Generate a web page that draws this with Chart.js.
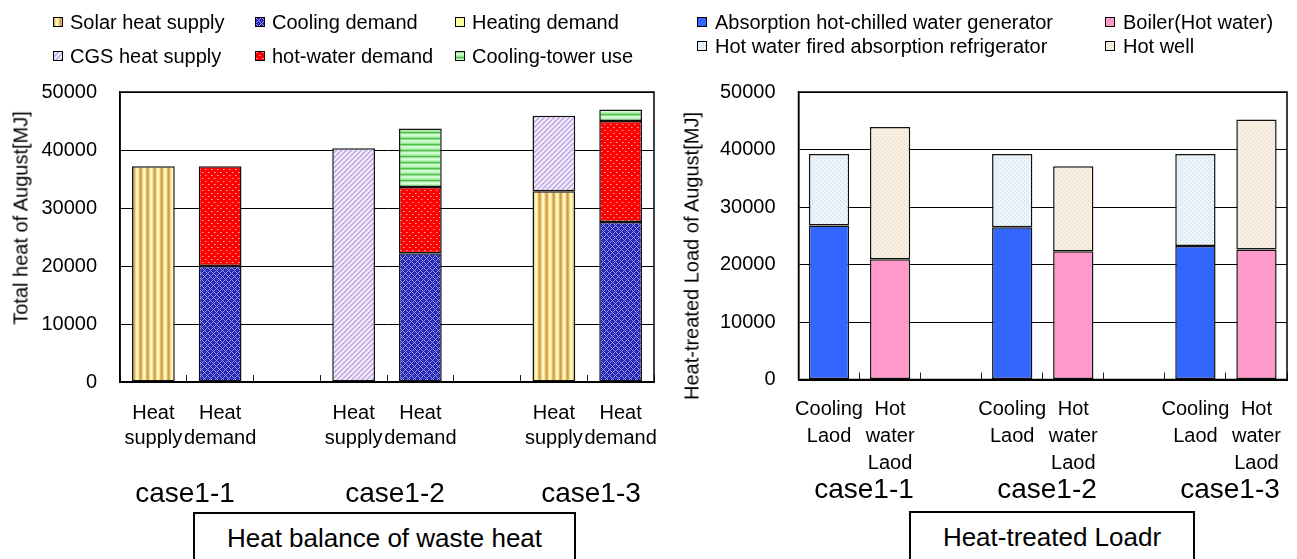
<!DOCTYPE html>
<html>
<head>
<meta charset="utf-8">
<script src="https://cdn.jsdelivr.net/npm/chart.js@4.4.1/dist/chart.umd.min.js"></script>
<style>
  html, body { margin: 0; padding: 0; background: #fff; }
  body { width: 1297px; height: 559px; position: relative; overflow: hidden;
         font-family: "Liberation Sans", Arial, sans-serif; color: #000; }
  canvas.chart { position: absolute; top: 0; }
  .leg { position: absolute; height: 20px; white-space: nowrap; font-size: 20px; line-height: 20px; }
  .leg canvas { position: absolute; left: 0; top: 5px; }
  .leg span { position: absolute; top: 0; }
  .ytitle { position: absolute; font-size: 20px; white-space: nowrap;
            transform: translate(-50%, -50%) rotate(-90deg); }
  .case { position: absolute; font-size: 28px; white-space: nowrap; transform: translate(-50%, -50%); }
  .tbox { position: absolute; border: 2px solid #000; background: #fff; box-sizing: border-box;
          font-size: 26px; line-height: 26px; text-align: center; padding-top: 11px; white-space: nowrap; }
</style>
</head>
<body>
<canvas id="heatBalance" class="chart" width="660" height="559" style="left:0"></canvas>
<canvas id="treatedLoad" class="chart" width="637" height="559" style="left:660px"></canvas>

<script>
// ---- Heat balance of waste heat (August) ----
const balanceCategories = [["Heat", "supply"], ["Heat", "demand"], "",
                           ["Heat", "supply"], ["Heat", "demand"], "",
                           ["Heat", "supply"], ["Heat", "demand"]];
const solarHeatSupply = [37200, null, null, null, null, null, 32900, null];
const cgsHeatSupply   = [null, null, null, 40300, null, null, 13000, null];
const coolingDemand   = [null, 20000, null, null, 22200, null, null, 27600];
const heatingDemand   = [null, 0, null, null, 0, null, null, 0];
const hotWaterDemand  = [null, 17200, null, null, 11400, null, null, 17400];
const coolingTowerUse = [null, null, null, null, 10100, null, null, 2000];

// ---- Heat-treated load (August) ----
const loadCategories = [["Cooling", "Laod"], ["Hot", "water", "Laod"], "",
                        ["Cooling", "Laod"], ["Hot", "water", "Laod"], "",
                        ["Cooling", "Laod"], ["Hot", "water", "Laod"]];
const absorptionGenerator   = [26800, null, null, 26500, null, null, 23200, null];
const hotWaterFiredAbsorber = [12400, null, null, 12700, null, null, 16000, null];
const boilerHotWater        = [null, 20900, null, null, 22300, null, null, 22600];
const hotWell               = [null, 23000, null, null, 14800, null, null, 22600];

const caseLabels = ["case1-1", "case1-2", "case1-3"];
const yTickMin = 0, yTickMax = 50000, yTickStep = 10000;

const FONT = '"Liberation Sans", Arial, sans-serif';
Chart.defaults.font.family = FONT;
Chart.defaults.color = '#000';

// ---- fill tiles ----
function tile(w, h, paint) {
  const c = document.createElement('canvas');
  c.width = w; c.height = h;
  paint(c.getContext('2d'), w, h);
  return c;
}
function dot(g, x, y, col) { g.fillStyle = col; g.fillRect(x, y, 1, 1); }

const tiles = {
  solar: tile(7, 7, g => {
    const cols = ['#CE9E50', '#DAB064', '#F2D98A', '#FFF6AC', '#FFFAC8', '#F6E296', '#E2BA6C'];
    cols.forEach((c, x) => { g.fillStyle = c; g.fillRect(x, 0, 1, 7); });
  }),
  cooling: tile(6, 6, g => {
    g.fillStyle = '#2323B2'; g.fillRect(0, 0, 6, 6);
    for (let x = 0; x < 6; x++) for (let y = 0; y < 6; y++) {
      if ((x + y) % 6 === 0 || (x - y + 6) % 6 === 0) dot(g, x, y, '#9C9CEE');
    }
    dot(g, 3, 0, '#5050CC'); dot(g, 0, 3, '#5050CC');
  }),
  heating: tile(2, 2, g => { g.fillStyle = '#FFFF99'; g.fillRect(0, 0, 2, 2); }),
  cgs: tile(5, 5, g => {
    const cols = ['#C4ADE5', '#C9B3E8', '#DED2F1', '#F7F3FC', '#F2ECFA'];
    for (let x = 0; x < 5; x++) for (let y = 0; y < 5; y++) dot(g, x, y, cols[(x + y) % 5]);
  }),
  hotWater: tile(6, 6, g => {
    g.fillStyle = '#FF0000'; g.fillRect(0, 0, 6, 6);
    dot(g, 1, 1, '#FFA8A8'); dot(g, 4, 4, '#FFA8A8');
    dot(g, 2, 1, '#FF5A5A'); dot(g, 5, 4, '#FF5A5A');
  }),
  tower: tile(6, 6, g => {
    const cols = ['#4DBE4D', '#8EDF8E', '#C8FBC8', '#D2FFD2', '#B6F2B6', '#98E598'];
    cols.forEach((c, y) => { g.fillStyle = c; g.fillRect(0, y, 6, 1); });
  }),
  absorption: tile(2, 2, g => { g.fillStyle = '#3366FF'; g.fillRect(0, 0, 2, 2); }),
  refrigerator: tile(4, 4, g => {
    g.fillStyle = '#EDF5FA'; g.fillRect(0, 0, 4, 4);
    dot(g, 0, 0, '#BCD6E8'); dot(g, 2, 2, '#BCD6E8');
  }),
  boiler: tile(2, 2, g => { g.fillStyle = '#FF99CC'; g.fillRect(0, 0, 2, 2); }),
  hotWell: tile(4, 4, g => {
    g.fillStyle = '#F9F0E4'; g.fillRect(0, 0, 4, 4);
    dot(g, 0, 0, '#E5D2BA'); dot(g, 2, 2, '#E5D2BA');
  })
};

function pat(ctx, key) { return ctx.createPattern(tiles[key], 'repeat'); }

// Plot-area frame drawn around the chart area
const frame = {
  id: 'frame',
  afterDatasetsDraw(chart) {
    const a = chart.chartArea, g = chart.ctx;
    g.save();
    g.strokeStyle = '#000'; g.lineWidth = 1.5;
    g.strokeRect(a.left, a.top, a.right - a.left, a.bottom - a.top);
    g.restore();
  }
};

function barSet(ctx, label, data, key, pct) {
  return {
    label, data,
    backgroundColor: pat(ctx, key),
    borderColor: '#111', borderWidth: key === 'heating' ? 0 : 1.5, borderSkipped: false,
    categoryPercentage: 1, barPercentage: pct, stack: 's'
  };
}

function makeOptions(plotLeft, plotBottom, canvasH, padRight, tickPad, lineH) {
  return {
    responsive: false, animation: false, devicePixelRatio: 1,
    layout: { padding: { left: 0, right: padRight, top: 92, bottom: 0 } },
    plugins: { legend: { display: false }, tooltip: { enabled: false } },
    scales: {
      x: {
        stacked: true,
        grid: { display: true, drawOnChartArea: false, drawTicks: true, tickLength: -7,
                color: '#222', lineWidth: 1, offset: true },
        border: { display: true, color: '#000', width: 2 },
        ticks: { color: '#000', font: { size: 20, lineHeight: lineH }, padding: tickPad,
                 maxRotation: 0, minRotation: 0, autoSkip: false },
        afterFit(s) {
          s.height = canvasH - plotBottom;
          s.paddingLeft = 0; s.paddingRight = 0;
        }
      },
      y: {
        stacked: true, min: yTickMin, max: yTickMax,
        ticks: { stepSize: yTickStep, color: '#000', font: { size: 20 }, padding: 23,
                 callback: v => String(v) },
        grid: { color: '#000', lineWidth: 1, drawTicks: false },
        border: { display: true, color: '#000', width: 1.5 },
        afterFit(s) {
          s.width = plotLeft;
          s.paddingTop = 0; s.paddingBottom = 0;
        }
      }
    }
  };
}

// ---- left chart ----
const c1 = document.getElementById('heatBalance');
const g1 = c1.getContext('2d');
const balanceSeries = [
  ['Solar heat supply', solarHeatSupply, 'solar'],
  ['CGS heat supply', cgsHeatSupply, 'cgs'],
  ['Cooling demand', coolingDemand, 'cooling'],
  ['Heating demand', heatingDemand, 'heating'],
  ['hot-water demand', hotWaterDemand, 'hotWater'],
  ['Cooling-tower use', coolingTowerUse, 'tower']
];
const chart1 = new Chart(c1, {
  type: 'bar',
  data: { labels: balanceCategories,
          datasets: balanceSeries.map(s => barSet(g1, s[0], s[1], s[2], 0.64)) },
  options: makeOptions(120, 382, 559, 6, 26, 1.25),
  plugins: [frame]
});

// ---- right chart ----
const c2 = document.getElementById('treatedLoad');
const g2 = c2.getContext('2d');
const loadSeries = [
  ['Absorption hot-chilled water generator', absorptionGenerator, 'absorption'],
  ['Hot water fired absorption refrigerator', hotWaterFiredAbsorber, 'refrigerator'],
  ['Boiler(Hot water)', boilerHotWater, 'boiler'],
  ['Hot well', hotWell, 'hotWell']
];
const chart2 = new Chart(c2, {
  type: 'bar',
  data: { labels: loadCategories,
          datasets: loadSeries.map(s => barSet(g2, s[0], s[1], s[2], 0.66)) },
  options: makeOptions(138.5, 379.5, 559, 10, 23, 1.35),
  plugins: [frame]
});

// ---- legends, axis titles, case labels, caption boxes ----
function el(cls, text, style) {
  const d = document.createElement('div');
  d.className = cls;
  if (text) d.textContent = text;
  Object.assign(d.style, style);
  document.body.appendChild(d);
  return d;
}
function legendItem(label, key, x, yc, gap) {
  const d = el('leg', null, { left: x + 'px', top: (yc - 10) + 'px' });
  const sw = document.createElement('canvas');
  sw.width = 10; sw.height = 10;
  const g = sw.getContext('2d');
  g.fillStyle = g.createPattern(tiles[key], 'repeat');
  g.fillRect(0, 0, 10, 10);
  g.strokeStyle = '#000'; g.lineWidth = 1;
  g.strokeRect(0.5, 0.5, 9, 9);
  d.appendChild(sw);
  const t = document.createElement('span');
  t.textContent = label;
  t.style.left = gap + 'px';
  d.appendChild(t);
}
// left legend: 3 columns x 2 rows
const leftLegend = [
  ['Solar heat supply', 'solar'], ['Cooling demand', 'cooling'], ['Heating demand', 'heating'],
  ['CGS heat supply', 'cgs'], ['hot-water demand', 'hotWater'], ['Cooling-tower use', 'tower']
];
const leftCols = [53, 255, 455], leftRows = [22, 56];
leftLegend.forEach((it, i) => legendItem(it[0], it[1], leftCols[i % 3], leftRows[Math.floor(i / 3)], 17));
// right legend: 2 columns x 2 rows
const rightLegend = [
  ['Absorption hot-chilled water generator', 'absorption'], ['Boiler(Hot water)', 'boiler'],
  ['Hot water fired absorption refrigerator', 'refrigerator'], ['Hot well', 'hotWell']
];
const rightCols = [697, 1105], rightRows = [22, 46];
rightLegend.forEach((it, i) => legendItem(it[0], it[1], rightCols[i % 2], rightRows[Math.floor(i / 2)], 18));

el('ytitle', 'Total heat of August[MJ]', { left: '21px', top: '218px' });
el('ytitle', 'Heat-treated Load of August[MJ]', { left: '692px', top: '256px' });

const leftCaseX = [185, 395, 591], rightCaseX = [864, 1047, 1230];
caseLabels.forEach((t, i) => {
  el('case', t, { left: leftCaseX[i] + 'px', top: '493px' });
  el('case', t, { left: rightCaseX[i] + 'px', top: '489px' });
});

el('tbox', 'Heat balance of waste heat', { left: '193px', top: '512px', width: '383px', height: '60px' });
el('tbox', 'Heat-treated Loadr', { left: '909px', top: '511px', width: '286px', height: '60px' });
</script>
</body>
</html>
